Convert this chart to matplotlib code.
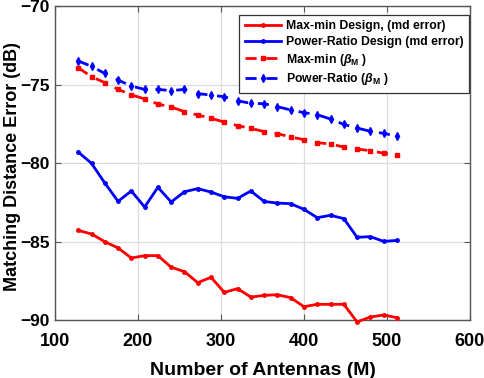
import matplotlib
matplotlib.use("Agg")
import matplotlib.pyplot as plt
import numpy as np

antennas = [128, 144, 160, 176, 192, 208, 224, 240, 256, 272, 288, 304, 320,
            336, 352, 368, 384, 400, 416, 432, 448, 464, 480, 496, 512]

maxmin_md = [-84.29, -84.52, -85.01, -85.41, -86.05, -85.90, -85.90, -86.64,
             -86.92, -87.62, -87.28, -88.24, -88.00, -88.54, -88.43, -88.39,
             -88.58, -89.15, -89.00, -89.00, -89.00, -90.12, -89.81, -89.68,
             -89.85]
power_md = [-79.30, -80.02, -81.27, -82.44, -81.78, -82.80, -81.55, -82.48,
            -81.83, -81.63, -81.85, -82.15, -82.25, -81.78, -82.45, -82.55,
            -82.59, -82.95, -83.48, -83.33, -83.54, -84.73, -84.69, -84.99,
            -84.93]
maxmin_beta = [-73.93, -74.50, -74.88, -75.31, -75.65, -75.92, -76.24, -76.43,
               -76.73, -76.94, -77.15, -77.39, -77.62, -77.79, -78.00, -78.13,
               -78.34, -78.51, -78.70, -78.79, -78.98, -79.11, -79.21, -79.38,
               -79.49]
power_beta = [-73.50, -73.84, -74.29, -74.71, -75.10, -75.31, -75.31, -75.39,
              -75.31, -75.58, -75.67, -75.78, -76.03, -76.20, -76.22, -76.41,
              -76.62, -76.79, -76.92, -77.20, -77.54, -77.77, -77.98, -78.11,
              -78.28]

labels = ["Max-min Design, (md error)", "Power-Ratio Design (md error)",
          r"Max-min ($\beta_{\mathbf{M}}$ )", r"Power-Ratio ($\beta_{\mathbf{M}}$ )"]

x_ticks = [100, 200, 300, 400, 500, 600]
y_ticks = [-90, -85, -80, -75, -70]

plt.rcParams['font.family'] = ['Liberation Sans', 'DejaVu Sans']
plt.rcParams['font.weight'] = 'bold'
plt.rcParams['mathtext.fontset'] = 'custom'
plt.rcParams['mathtext.it'] = 'Liberation Sans:italic:bold'
plt.rcParams['mathtext.bf'] = 'Liberation Sans:bold'
plt.rcParams['mathtext.rm'] = 'Liberation Sans:bold'

fig = plt.figure(figsize=(4.84, 3.78), dpi=100)
ax = fig.add_axes([0.1136, 0.1534, 0.8574, 0.8306])

red = '#ff0000'
blue = '#0000ff'
ax.plot(antennas, maxmin_md, '-', color=red, lw=2, marker='.', ms=5,
        label=labels[0], clip_on=False, zorder=3)
ax.plot(antennas, power_md, '-', color=blue, lw=2, marker='.', ms=5,
        label=labels[1], zorder=3)
ax.plot(antennas, maxmin_beta, '--', color=red, lw=2, marker='s', ms=3,
        dashes=(4, 3.5), label=labels[2], zorder=3)
ax.plot(antennas, power_beta, '--', color=blue, lw=2, marker='d', ms=4,
        dashes=(4, 3.5), label=labels[3], zorder=3)

ax.set_xlim(100, 600)
ax.set_ylim(-90, -70)
ax.set_xticks(x_ticks)
ax.set_yticks(y_ticks)
ax.tick_params(direction='in', top=True, right=True, length=4, width=0.8,
               colors='#555555')
ax.tick_params(axis='x', pad=9, labelsize=13)
ax.tick_params(axis='y', pad=4, labelsize=12.5)
for lab in ax.get_xticklabels() + ax.get_yticklabels():
    lab.set_fontweight('bold')
    lab.set_color('black')
ax.grid(True, color='#dcdcdc', lw=0.9)
ax.set_axisbelow(True)
for s in ax.spines.values():
    s.set_color('#555555')
    s.set_linewidth(1.0)

ax.set_xlabel("Number of Antennas (M)", fontsize=14, fontweight='bold', labelpad=9)
ax.set_ylabel("Matching Distance Error (dB)", fontsize=13, fontweight='bold')
ax.yaxis.set_label_coords(-0.081, 0.49)

leg = ax.legend(loc='upper right', bbox_to_anchor=(0.9985, 0.972), fontsize=8.8,
                frameon=True, fancybox=False, edgecolor='#333333', framealpha=1,
                borderpad=0.45, labelspacing=0.3, handlelength=3.0,
                handletextpad=0.4, borderaxespad=0.0)
leg.get_frame().set_linewidth(0.9)
for t in leg.get_texts():
    t.set_fontweight('bold')

fig.savefig("out.png", dpi=100)
